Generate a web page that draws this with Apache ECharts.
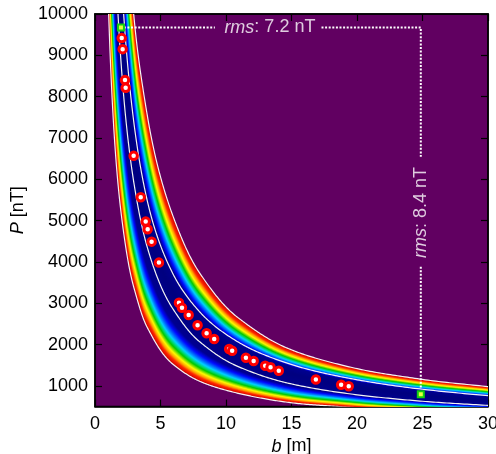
<!DOCTYPE html>
<html><head><meta charset="utf-8">
<script src="https://cdn.jsdelivr.net/npm/echarts@6/dist/echarts.min.js"></script>
<style>html,body{margin:0;padding:0;background:#fff;}#c{width:496px;height:454px;}</style>
</head><body><div id="c"></div>
<script>
// ---- data ----
const xTicks = [0, 5, 10, 15, 20, 25, 30];
const yTicks = [1000, 2000, 3000, 4000, 5000, 6000, 7000, 8000, 9000, 10000];
const dotsB = [2.04, 2.11, 2.29, 2.34, 2.95, 3.49, 3.87, 4.02, 4.32, 4.88, 6.41, 6.64, 7.15, 7.83, 8.52, 9.10, 10.24, 10.47, 11.52, 12.11, 12.99, 13.40, 14.03, 16.86, 18.79, 19.37];
const dotsP = [9417, 9150, 8400, 8213, 6567, 5567, 4976, 4792, 4492, 3984, 3015, 2894, 2718, 2468, 2275, 2137, 1894, 1853, 1684, 1604, 1490, 1451, 1369, 1156, 1030, 991];
const bestB = [1.98, 24.87];
const bestP = [9673, 798];
const rmsValues = ['7.2', '8.4'];
// misfit band: centre P*b and log-widths at knots of b
const bandK = 19400;
const knotB = [0.5, 1, 2, 3, 4, 6, 8, 11, 15, 20, 25, 30, 40];
const upW   = [0.40, 0.40, 0.41, 0.42, 0.44, 0.45, 0.43, 0.40, 0.37, 0.38, 0.40, 0.42, 0.42];
const lowW  = [0.62, 0.62, 0.63, 0.66, 0.70, 0.76, 0.78, 0.77, 0.78, 0.72, 0.66, 0.62, 0.60];
const inUpW = [0.12, 0.12, 0.12, 0.12, 0.12, 0.13, 0.14, 0.15, 0.16, 0.17, 0.17, 0.17, 0.17];
const inLoW = [0.10, 0.10, 0.10, 0.10, 0.11, 0.13, 0.16, 0.19, 0.21, 0.21, 0.21, 0.20, 0.20];

// colour map (t = 0 at band centre, 1 at outer contour)
const cStops = [
  [0.00, [0, 0, 128]], [0.33, [0, 0, 145]], [0.42, [0, 10, 255]], [0.50, [0, 120, 255]],
  [0.56, [0, 210, 255]], [0.62, [0, 215, 110]], [0.67, [0, 200, 0]], [0.73, [160, 230, 0]],
  [0.77, [255, 250, 0]], [0.84, [255, 160, 0]], [0.90, [255, 40, 0]], [1.00, [205, 0, 0]]
];
function colorAt(t) {
  for (let i = 1; i < cStops.length; i++) {
    if (t <= cStops[i][0]) {
      const a = cStops[i - 1], b = cStops[i];
      const f = (t - a[0]) / (b[0] - a[0]);
      const c = a[1].map((v, k) => Math.round(v + (b[1][k] - v) * f));
      return 'rgb(' + c.join(',') + ')';
    }
  }
  const l = cStops[cStops.length - 1][1];
  return 'rgb(' + l.join(',') + ')';
}
function knotVal(arr, b) {
  const lb = Math.log(b);
  if (b <= knotB[0]) return arr[0];
  for (let i = 1; i < knotB.length; i++) {
    if (b <= knotB[i]) {
      const l0 = Math.log(knotB[i - 1]), l1 = Math.log(knotB[i]);
      const f = (lb - l0) / (l1 - l0);
      const s = 0.5 - 0.5 * Math.cos(Math.PI * f);
      return arr[i - 1] + (arr[i] - arr[i - 1]) * s;
    }
  }
  return arr[arr.length - 1];
}
const centre = b => bandK / b;
const sampleB = [];
for (let i = 0; i <= 500; i++) sampleB.push(Math.exp(Math.log(0.6) + (Math.log(32) - Math.log(0.6)) * i / 500));
const levels = [];
for (let k = 0; k <= 120; k++) levels.push(1 - k / 120);

function renderField(params, api) {
  const children = [];
  for (const t of levels) {
    const pts = [];
    for (const b of sampleB) pts.push(api.coord([b, centre(b) * Math.exp(t * knotVal(upW, b))]));
    for (let i = sampleB.length - 1; i >= 0; i--) {
      const b = sampleB[i];
      pts.push(api.coord([b, centre(b) * Math.exp(-t * knotVal(lowW, b))]));
    }
    children.push({ type: 'polygon', silent: true, shape: { points: pts }, style: { fill: colorAt(t) } });
  }
  const lineOf = (arr, sign) => sampleB.map(b => api.coord([b, centre(b) * Math.exp(sign * knotVal(arr, b))]));
  [[upW, 1], [lowW, -1], [inUpW, 1], [inLoW, -1]].forEach(([arr, s]) => {
    children.push({ type: 'polyline', silent: true, shape: { points: lineOf(arr, s) }, style: { stroke: '#f4f4f4', lineWidth: 1.2, fill: null } });
  });
  return { type: 'group', children };
}

const font = 'Liberation Sans';
const plain = v => String(v);
const axisText = { fontFamily: font, fontSize: 18, color: '#000', formatter: plain };
const axLine = { show: true, onZero: false, lineStyle: { color: '#000', width: 1.5 } };
const axTick = { show: true, inside: true, length: 7, lineStyle: { color: '#000', width: 1.2 } };
const dotted = { color: '#fff', width: 2, type: [2, 1.6] };
const rich = { i: { fontFamily: font, fontSize: 18, fontStyle: 'italic', color: '#fff' }, n: { fontFamily: font, fontSize: 18, color: '#fff' } };
const richBlack = { i: { fontFamily: font, fontSize: 18, fontStyle: 'italic', color: '#000' }, n: { fontFamily: font, fontSize: 18, color: '#000' } };

const option = {
  animation: false,
  grid: { left: 95, right: 8, top: 14, bottom: 47.4, show: true, backgroundColor: '#610061', borderColor: '#000', borderWidth: 1.5,
          containLabel: false, outerBoundsMode: 'none' },
  xAxis: [
    { type: 'value', min: 0, max: 30, interval: 5, position: 'bottom', axisLine: axLine, axisTick: axTick,
      axisLabel: Object.assign({ margin: 8 }, axisText), splitLine: { show: false },
      name: '{i|b}{n| [m]}', nameLocation: 'middle', nameGap: 25, nameTextStyle: { rich: richBlack } },
    { type: 'value', min: 0, max: 30, interval: 5, position: 'top', axisLine: axLine, axisTick: axTick,
      axisLabel: { show: false }, splitLine: { show: false } }
  ],
  yAxis: [
    { type: 'value', min: 500, max: 10000, position: 'left', axisLine: axLine,
      axisTick: Object.assign({ customValues: yTicks }, axTick),
      axisLabel: Object.assign({ margin: 7, customValues: yTicks }, axisText), splitLine: { show: false },
      name: '{i|P}{n| [nT]}', nameLocation: 'middle', nameGap: 68, nameRotate: 90, nameTextStyle: { rich: richBlack } },
    { type: 'value', min: 500, max: 10000, position: 'right', axisLine: axLine,
      axisTick: Object.assign({ customValues: yTicks }, axTick),
      axisLabel: { show: false }, splitLine: { show: false } }
  ],
  series: [
    { type: 'custom', clip: true, renderItem: renderField, data: [[10, 5000]], silent: true, z: 1 },
    { type: 'line', data: [[2.2, bestP[0]], [9.15, bestP[0]]], symbol: 'none', lineStyle: dotted, silent: true, z: 3 },
    { type: 'line', data: [[17.29, bestP[0]], [bestB[1], bestP[0]], [bestB[1], 6543]], symbol: 'none', lineStyle: dotted, silent: true, z: 3 },
    { type: 'line', data: [[bestB[1], 3887], [bestB[1], 930]], symbol: 'none', lineStyle: dotted, silent: true, z: 3 },
    { type: 'scatter', data: dotsB.map((b, i) => [b, dotsP[i]]), symbol: 'circle', symbolSize: 7.5,
      itemStyle: { color: '#ffffff', borderColor: '#ff0000', borderWidth: 3, opacity: 1 }, silent: true, z: 4 },
    { type: 'scatter', data: bestB.map((b, i) => [b, bestP[i]]), symbol: 'rect', symbolSize: 6,
      itemStyle: { color: '#e8ff40', borderColor: '#10d010', borderWidth: 2, opacity: 1 }, silent: true, z: 5 },
    { type: 'scatter', data: [[13.35, bestP[0]]], symbolSize: 0, silent: true, z: 6,
      label: { show: true, position: 'inside', formatter: '{i|rms}{n|: ' + rmsValues[0] + ' nT}', rich: rich } },
    { type: 'scatter', data: [[bestB[1], 5199]], symbolSize: 0, silent: true, z: 6,
      label: { show: true, position: 'inside', rotate: 90, formatter: '{i|rms}{n|: ' + rmsValues[1] + ' nT}', rich: rich } }
  ]
};
const chart = echarts.init(document.getElementById('c'));
chart.setOption(option);
</script></body></html>
